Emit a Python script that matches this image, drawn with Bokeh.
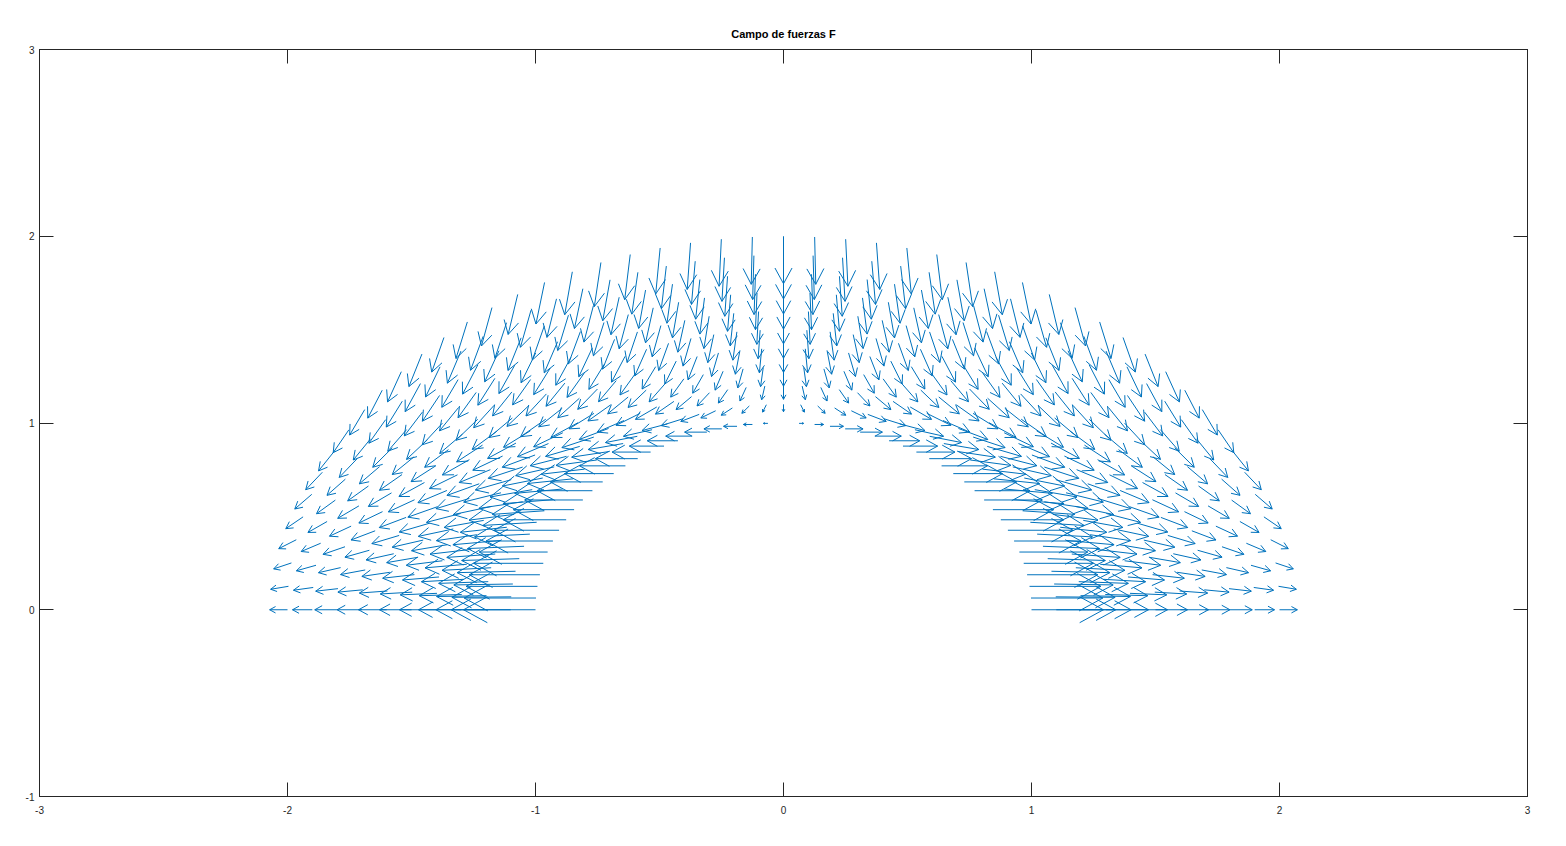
import numpy as np
from bokeh.plotting import figure
from bokeh.models import LinearAxis, Range1d, FixedTicker, ColumnDataSource
from bokeh.embed import file_html
from bokeh.resources import INLINE

# ---------------- data ----------------
title_text = "Campo de fuerzas F"
# radii of the sample rings and angles (degrees) of the polar grid
radius = [1.0, 1.1, 1.2, 1.3, 1.4, 1.5, 1.6, 1.7, 1.8, 1.9, 2.0]
angle_deg = [0.0, 3.6, 7.2, 10.8, 14.4, 18.0, 21.6, 25.2, 28.8, 32.4, 36.0,
             39.6, 43.2, 46.8, 50.4, 54.0, 57.6, 61.2, 64.8, 68.4, 72.0,
             75.6, 79.2, 82.8, 86.4, 90.0, 93.6, 97.2, 100.8, 104.4, 108.0,
             111.6, 115.2, 118.8, 122.4, 126.0, 129.6, 133.2, 136.8, 140.4, 144.0,
             147.6, 151.2, 154.8, 158.4, 162.0, 165.6, 169.2, 172.8, 176.4, 180.0]
# drawn arrow components per ring:  u = x * fx_gain[ring],  v = -y * fy_gain[ring]
fx_gain = [0.290, 0.218, 0.168, 0.132, 0.106, 0.086, 0.071, 0.059, 0.050, 0.042, 0.036]
fy_gain = [0.000, 0.036, 0.061, 0.079, 0.092, 0.102, 0.110, 0.116, 0.120, 0.124, 0.127]
x_ticks = [-3, -2, -1, 0, 1, 2, 3]
y_ticks = [-1, 0, 1, 2, 3]

# ---------------- layout constants ----------------
W, H = 1558, 838
BL, BR, BT, BB = 39, 31, 49, 42
FW, FH = W - BL - BR, H - BT - BB
XMIN, XMAX, YMIN, YMAX = x_ticks[0], x_ticks[-1], y_ticks[0], y_ticks[-1]
sx = FW / (XMAX - XMIN)
sy = FH / (YMAX - YMIN)
COLOR = "#0072BD"
AX = "#262626"

# ---------------- build arrows ----------------
R, T = np.meshgrid(np.array(radius), np.radians(np.array(angle_deg)), indexing="ij")
GX = np.array(fx_gain)[:, None] * np.ones_like(T)
GY = np.array(fy_gain)[:, None] * np.ones_like(T)
X = (R * np.cos(T)).ravel()
Y = (R * np.sin(T)).ravel()
U = (X * GX.ravel())
V = (-Y * GY.ravel())

tipx, tipy = X + U, Y + V
# arrow heads computed in screen space
up, vp = U * sx, V * sy
depth, half = 0.33, 0.18
bx, by = tipx - depth * U, tipy - depth * V
a1x = bx + (-vp * half) / sx
a1y = by + (up * half) / sy
a2x = bx - (-vp * half) / sx
a2y = by - (up * half) / sy

x0 = np.concatenate([X, a1x, a2x])
y0 = np.concatenate([Y, a1y, a2y])
x1 = np.concatenate([tipx, tipx, tipx])
y1 = np.concatenate([tipy, tipy, tipy])
src = ColumnDataSource(dict(x0=x0, y0=y0, x1=x1, y1=y1))

p = figure(width=W, height=H, output_backend="svg", toolbar_location=None,
           x_range=Range1d(XMIN, XMAX), y_range=Range1d(YMIN, YMAX),
           x_axis_type=None, y_axis_type=None,
           min_border_left=BL, min_border_right=BR,
           min_border_top=BT, min_border_bottom=BB,
           background_fill_color="white", border_fill_color="white",
           outline_line_color=AX, outline_line_width=1)

p.segment(x0="x0", y0="y0", x1="x1", y1="y1", source=src,
          line_color=COLOR, line_width=1)


def make_axis(ticks, labels=True, standoff=6):
    ax = LinearAxis(ticker=FixedTicker(ticks=ticks),
                    major_tick_in=14, major_tick_out=0,
                    minor_tick_in=0, minor_tick_out=0,
                    axis_line_color=AX, major_tick_line_color=AX,
                    major_label_text_color=AX,
                    major_label_text_font="Liberation Sans",
                    major_label_text_font_size="10px",
                    major_label_standoff=standoff)
    if labels:
        ax.major_label_overrides = {t: str(t) for t in ticks}
    else:
        ax.major_label_overrides = {t: "" for t in ticks}
        ax.major_label_standoff = 0
    return ax

p.add_layout(make_axis(x_ticks, standoff=9), "below")
p.add_layout(make_axis(y_ticks, standoff=5), "left")
p.add_layout(make_axis(x_ticks, labels=False), "above")
p.add_layout(make_axis(y_ticks, labels=False), "right")

p.title.text = title_text
p.title.align = "center"
p.title.text_font = "Liberation Sans"
p.title.text_font_size = "11px"
p.title.text_font_style = "bold"
p.title.text_color = "black"
p.title.standoff = 19

open("out.html", "w").write(file_html(p, INLINE))
